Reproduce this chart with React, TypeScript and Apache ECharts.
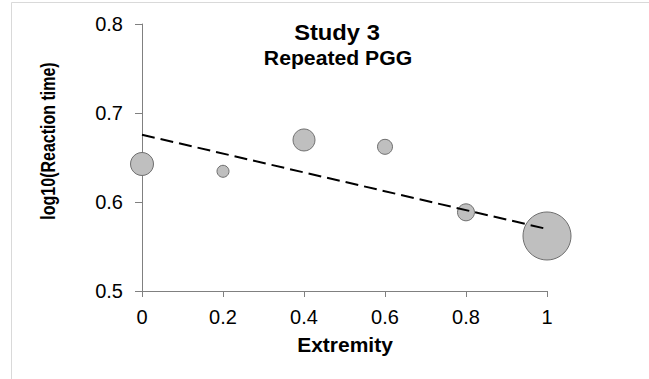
import React, { useEffect, useRef } from "react";
import * as echarts from "echarts";

const titleText = "Study 3";
const subtitleText = "Repeated PGG";
const xAxisTitle = "Extremity";
const yAxisTitle = "log10(Reaction time)";

const xValues = [0, 0.2, 0.4, 0.6, 0.8, 1];
const yValues = [0.6427, 0.6345, 0.6697, 0.662, 0.5884, 0.5618];
const bubbleSizes = [23, 12, 22, 15, 17, 48];

const trendX = [0, 1];
const trendY = [0.6756, 0.5697];

const xTicks = [0, 0.2, 0.4, 0.6, 0.8, 1];
const xTickLabels = ["0", "0.2", "0.4", "0.6", "0.8", "1"];
const yTicks = [0.5, 0.6, 0.7, 0.8];
const yTickLabels = ["0.5", "0.6", "0.7", "0.8"];

const FONT = "'Liberation Sans', Arial, Helvetica, sans-serif";

function labelFor(v: number, ticks: number[], labels: string[]) {
  let best = 0;
  for (let i = 1; i < ticks.length; i++) {
    if (Math.abs(ticks[i] - v) < Math.abs(ticks[best] - v)) best = i;
  }
  return labels[best];
}

export default function App() {
  const ref = useRef<HTMLDivElement>(null);
  useEffect(() => {
    if (!ref.current) return;
    const chart = echarts.init(ref.current, undefined, { renderer: "svg" });
    const scatterData = xValues.map((x, i) => [x, yValues[i], bubbleSizes[i]]);
    const trendData = trendX.map((x, i) => [x, trendY[i]]);
    chart.setOption({
      animation: false,
      backgroundColor: "#ffffff",
      grid: {
        left: 142,
        right: 102,
        top: 24,
        bottom: 88,
        containLabel: false,
        outerBoundsMode: "none",
      },
      xAxis: {
        type: "value",
        min: 0,
        max: 1,
        interval: 0.2,
        splitLine: { show: false },
        axisLine: { show: true, lineStyle: { color: "#808080", width: 1 } },
        axisTick: { show: true, inside: false, length: 6, lineStyle: { color: "#808080" } },
        axisLabel: {
          margin: 16,
          fontSize: 20,
          fontFamily: FONT,
          color: "#000",
          formatter: (v: number) => labelFor(v, xTicks, xTickLabels),
        },
      },
      yAxis: {
        type: "value",
        min: 0.5,
        max: 0.8,
        interval: 0.1,
        splitLine: { show: false },
        axisLine: { show: true, lineStyle: { color: "#808080", width: 1 } },
        axisTick: { show: true, inside: false, length: 7, lineStyle: { color: "#808080" } },
        axisLabel: {
          margin: 19,
          fontSize: 20,
          fontFamily: FONT,
          color: "#000",
          formatter: (v: number) => labelFor(v, yTicks, yTickLabels),
        },
      },
      graphic: [
        {
          type: "rect",
          shape: { x: 11.5, y: 2.5, width: 700, height: 500 },
          style: { fill: "none", stroke: "#d9d9d9", lineWidth: 1 },
          silent: true,
          z: -10,
        },
        {
          type: "text",
          x: 337,
          y: 32,
          scaleX: 1.08,
          style: {
            text: titleText,
            font: `bold 22px ${FONT}`,
            fill: "#000",
            textAlign: "center",
            textVerticalAlign: "middle",
          },
        },
        {
          type: "text",
          x: 338,
          y: 58,
          scaleX: 1.06,
          style: {
            text: subtitleText,
            font: `bold 20px ${FONT}`,
            fill: "#000",
            textAlign: "center",
            textVerticalAlign: "middle",
          },
        },
        {
          type: "text",
          x: 345,
          y: 345,
          scaleX: 1.05,
          style: {
            text: xAxisTitle,
            font: `bold 20px ${FONT}`,
            fill: "#000",
            textAlign: "center",
            textVerticalAlign: "middle",
          },
        },
        {
          type: "text",
          x: 48,
          y: 141,
          rotation: Math.PI / 2,
          scaleY: 1.3,
          style: {
            text: yAxisTitle,
            font: `bold 16px ${FONT}`,
            fill: "#000",
            textAlign: "center",
            textVerticalAlign: "middle",
          },
        },
      ],
      series: [
        {
          type: "scatter",
          data: scatterData,
          symbol: "circle",
          symbolSize: (d: number[]) => d[2],
          itemStyle: { color: "#bfbfbf", borderColor: "#6f6f6f", borderWidth: 1, opacity: 1 },
          z: 2,
        },
        {
          type: "line",
          data: trendData,
          showSymbol: false,
          symbol: "none",
          lineStyle: { color: "#000", width: 2, type: [13, 6] },
          z: 3,
        },
      ],
    });
    return () => chart.dispose();
  }, []);
  return (
    <div
      ref={ref}
      style={{ position: "fixed", left: 0, top: 0, width: 649, height: 379, background: "#fff" }}
    />
  );
}
